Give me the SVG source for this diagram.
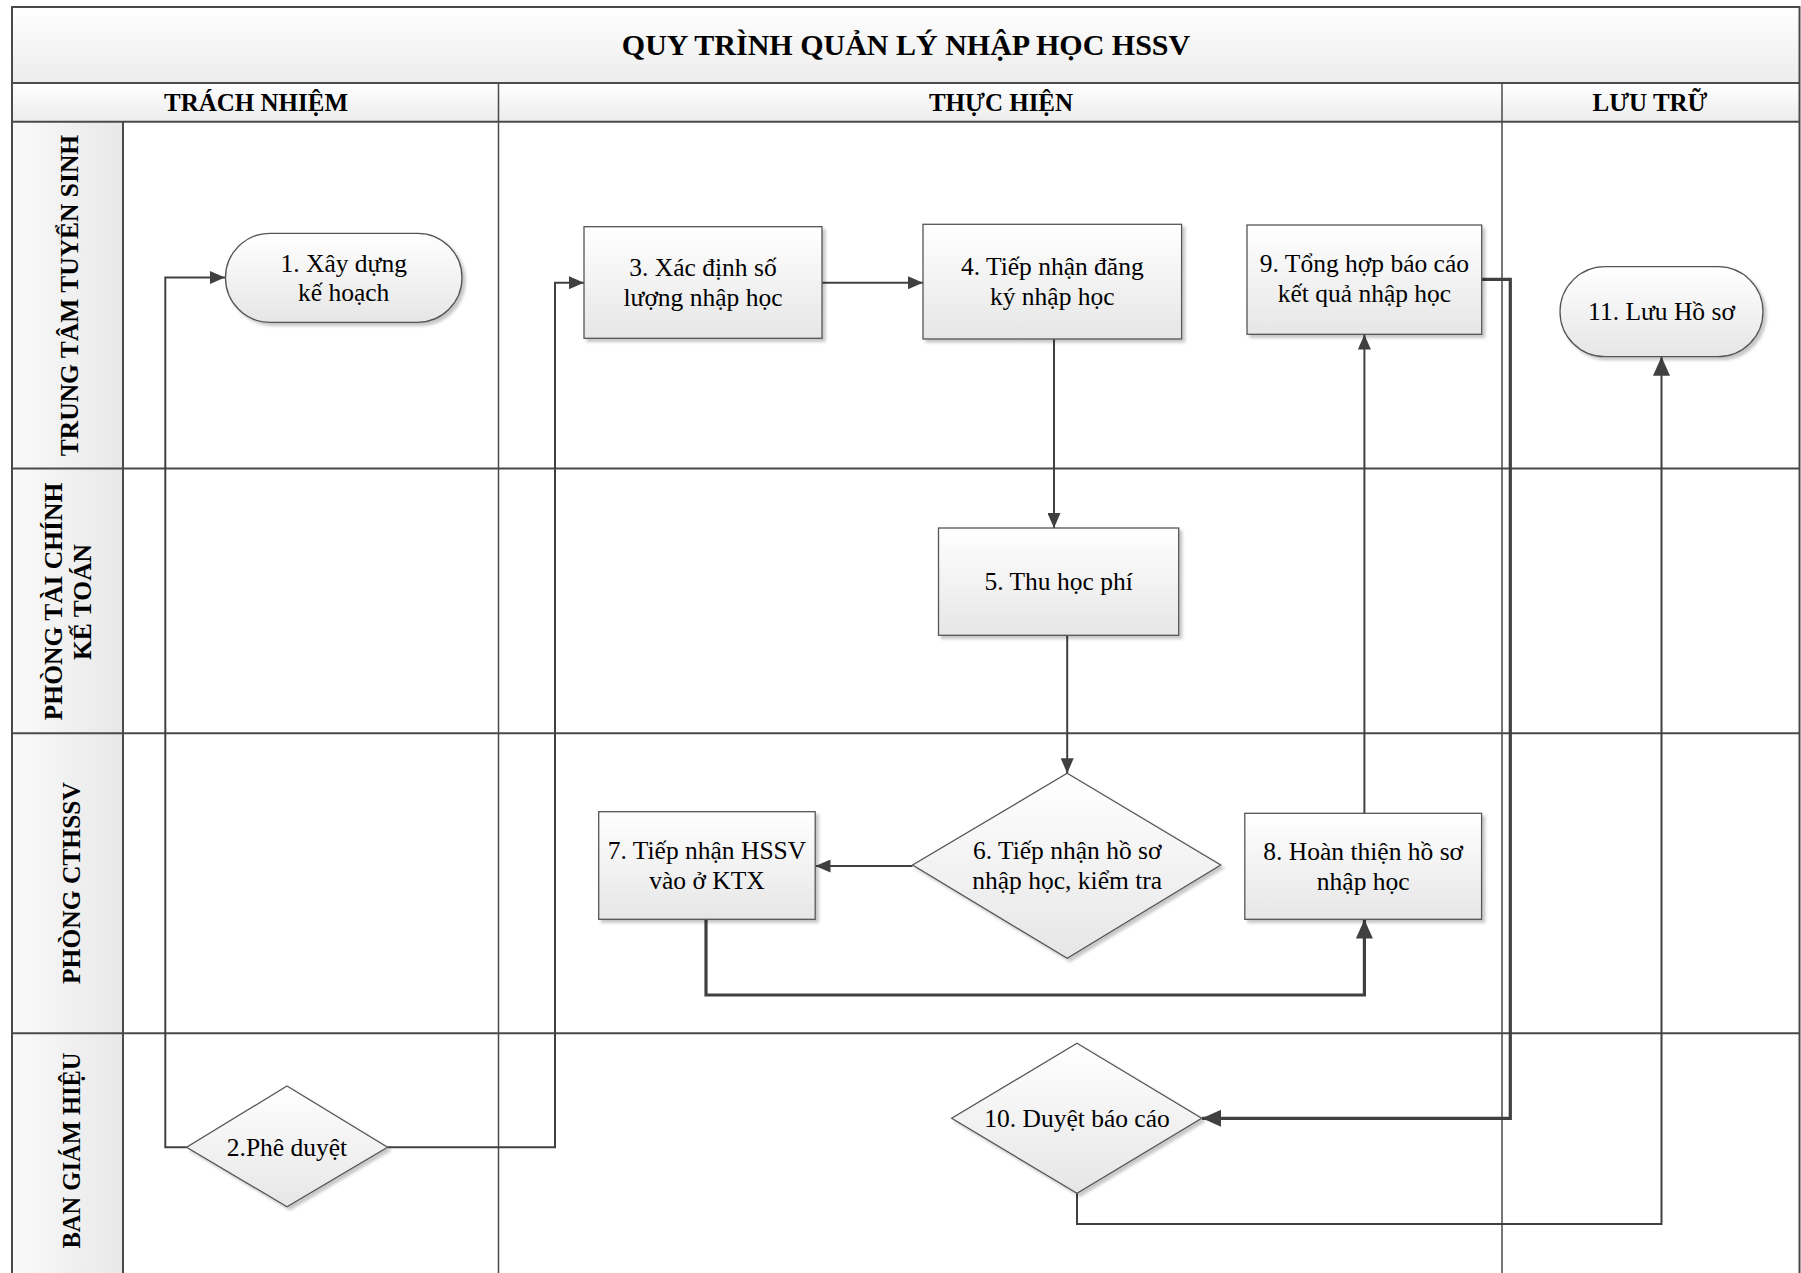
<svg xmlns="http://www.w3.org/2000/svg" width="1801" height="1273" viewBox="0 0 1801 1273">
<style>
.grid{stroke:#4a4a4a;stroke-width:2;fill:none}
.thin{stroke:#4a4a4a;stroke-width:1.5;fill:none}
.hdr{font-family:"Liberation Serif","Times New Roman",serif;font-weight:bold;fill:#000;text-anchor:middle}
.lane{font-family:"Liberation Serif","Times New Roman",serif;font-weight:bold;font-size:25.5px;fill:#000;text-anchor:middle}
.node{fill:url(#nodeGrad);stroke:#555;stroke-width:1.3;filter:url(#shadow)}
.lbl{font-family:"Liberation Serif","Times New Roman",serif;font-size:25.5px;fill:#000;text-anchor:middle}
.con{stroke:#404040;stroke-width:2;fill:none}
.conT{stroke:#404040;stroke-width:3.2;fill:none}
</style>
<defs>
<linearGradient id="nodeGrad" x1="0" y1="0" x2="0" y2="1"><stop offset="0" stop-color="#ffffff"/><stop offset="1" stop-color="#e6e6e6"/></linearGradient>
<linearGradient id="bandGrad" x1="0" y1="0" x2="0" y2="1"><stop offset="0" stop-color="#ffffff"/><stop offset="1" stop-color="#ececec"/></linearGradient>
<linearGradient id="laneGrad" x1="0" y1="0" x2="1" y2="0"><stop offset="0" stop-color="#fafafa"/><stop offset="1" stop-color="#e8e8e8"/></linearGradient>
<filter id="shadow" x="-10%" y="-10%" width="130%" height="130%"><feDropShadow dx="3" dy="3" stdDeviation="1.5" flood-color="#000" flood-opacity="0.22"/></filter>
<marker id="arr" markerUnits="userSpaceOnUse" markerWidth="15" markerHeight="13" refX="15" refY="6.5" orient="auto"><path d="M0,0 L15,6.5 L0,13 z" fill="#404040"/></marker>
<marker id="arrT" markerUnits="userSpaceOnUse" markerWidth="19" markerHeight="17" refX="19" refY="8.5" orient="auto"><path d="M0,0 L19,8.5 L0,17 z" fill="#404040"/></marker>
</defs>
<rect x="0" y="0" width="1801" height="1273" fill="#fff"/>
<g id="frame">
<rect x="12" y="7" width="1788" height="76" fill="url(#bandGrad)"/>
<rect x="12" y="83" width="1788" height="38.7" fill="url(#bandGrad)"/>
<rect x="12" y="121.7" width="111" height="1160" fill="url(#laneGrad)"/>
<rect x="12" y="7" width="1787.5" height="1280" class="grid"/>
<line x1="12" y1="83" x2="1800" y2="83" class="grid"/>
<line x1="12" y1="121.7" x2="1800" y2="121.7" class="grid"/>
<line x1="498.5" y1="83" x2="498.5" y2="1273" class="thin"/>
<line x1="1502" y1="83" x2="1502" y2="1273" class="thin"/>
<line x1="123" y1="121.7" x2="123" y2="1273" class="grid"/>
<line x1="12" y1="468.5" x2="1800" y2="468.5" class="grid"/>
<line x1="12" y1="733.3" x2="1800" y2="733.3" class="grid"/>
<line x1="12" y1="1033.3" x2="1800" y2="1033.3" class="grid"/>
<text class="hdr" x="906" y="55" font-size="30">QUY TRÌNH QUẢN LÝ NHẬP HỌC HSSV</text>
<text class="hdr" x="256" y="111" font-size="25">TRÁCH NHIỆM</text>
<text class="hdr" x="1001" y="111" font-size="25">THỰC HIỆN</text>
<text class="hdr" x="1650" y="111" font-size="25">LƯU TRỮ</text>
<text class="lane" x="78" y="295.5" transform="rotate(-90 78 295.5)">TRUNG TÂM TUYỂN SINH</text>
<text class="lane" x="62" y="601.5" transform="rotate(-90 62 601.5)">PHÒNG TÀI CHÍNH</text>
<text class="lane" x="91" y="602" transform="rotate(-90 91 602)">KẾ TOÁN</text>
<text class="lane" x="80" y="883" transform="rotate(-90 80 883)">PHÒNG CTHSSV</text>
<text class="lane" x="80" y="1150.5" style="font-size:24.5px" transform="rotate(-90 80 1150.5)">BAN GIÁM HIỆU</text>
</g>
<g id="connectors">
<path class="con" d="M186.6,1147.3 H165.3 V277.5 H225" marker-end="url(#arr)"/>
<path class="con" d="M387.5,1147.3 H555 V282.7 H584" marker-end="url(#arr)"/>
<path class="con" d="M822,282.7 H923" marker-end="url(#arr)"/>
<path class="con" d="M1054,339 V528" marker-end="url(#arr)"/>
<path class="con" d="M1067.2,635.3 V773.3" marker-end="url(#arr)"/>
<path class="con" d="M912.6,866 H815.5" marker-end="url(#arr)"/>
<path class="conT" d="M706,919.3 V995 H1364.4 V919.5" marker-end="url(#arrT)"/>
<path class="con" d="M1364.4,813.3 V334.5" marker-end="url(#arr)"/>
<path class="conT" d="M1481.7,279.3 H1510.3 V1118.3 H1202" marker-end="url(#arrT)"/>
<path class="con" d="M1077,1193.3 V1224 H1661.5 V356.7" marker-end="url(#arrT)"/>
</g>
<g id="n1"><rect class="node" x="225.5" y="233.3" width="236.5" height="89" rx="44.5" ry="44.5"/>
<text class="lbl" x="343.7" y="271.7">1. Xây dựng</text><text class="lbl" x="343.7" y="301">kế hoạch</text></g>
<g id="n2"><polygon class="node" points="287,1086 387.5,1147.3 287,1206.7 186.6,1147.3"/>
<text class="lbl" x="287" y="1155.5">2.Phê duyệt</text></g>
<g id="n3"><rect class="node" x="584" y="226.7" width="238" height="111.6"/>
<text class="lbl" x="703" y="275.5">3. Xác định số</text><text class="lbl" x="703" y="305.5">lượng nhập học</text></g>
<g id="n4"><rect class="node" x="923" y="224.3" width="258.6" height="114.7"/>
<text class="lbl" x="1052.3" y="274.5">4. Tiếp nhận đăng</text><text class="lbl" x="1052.3" y="304.5">ký nhập học</text></g>
<g id="n5"><rect class="node" x="938.5" y="528" width="240.2" height="107.3"/>
<text class="lbl" x="1058.6" y="590">5. Thu học phí</text></g>
<g id="n6"><polygon class="node" points="1067.2,773.3 1220.7,865 1067.2,958.3 912.6,865"/>
<text class="lbl" x="1067.2" y="858.5">6. Tiếp nhận hồ sơ</text><text class="lbl" x="1067.2" y="888.5">nhập học, kiểm tra</text></g>
<g id="n7"><rect class="node" x="598.7" y="811.7" width="216.5" height="107.6"/>
<text class="lbl" x="707" y="859">7. Tiếp nhận HSSV</text><text class="lbl" x="707" y="889">vào ở KTX</text></g>
<g id="n8"><rect class="node" x="1244.8" y="813.3" width="236.8" height="106"/>
<text class="lbl" x="1363.2" y="859.5">8. Hoàn thiện hồ sơ</text><text class="lbl" x="1363.2" y="889.5">nhập học</text></g>
<g id="n9"><rect class="node" x="1247" y="225" width="234.7" height="109.3"/>
<text class="lbl" x="1364.4" y="271.7">9. Tổng hợp báo cáo</text><text class="lbl" x="1364.4" y="301.7">kết quả nhập học</text></g>
<g id="n10"><polygon class="node" points="1077,1043.3 1201.7,1118.3 1077,1193.3 951.7,1118.3"/>
<text class="lbl" x="1077" y="1126.5">10. Duyệt báo cáo</text></g>
<g id="n11"><rect class="node" x="1560" y="266.7" width="203" height="90" rx="45" ry="45"/>
<text class="lbl" x="1661.5" y="320">11. Lưu Hồ sơ</text></g>
</svg>
